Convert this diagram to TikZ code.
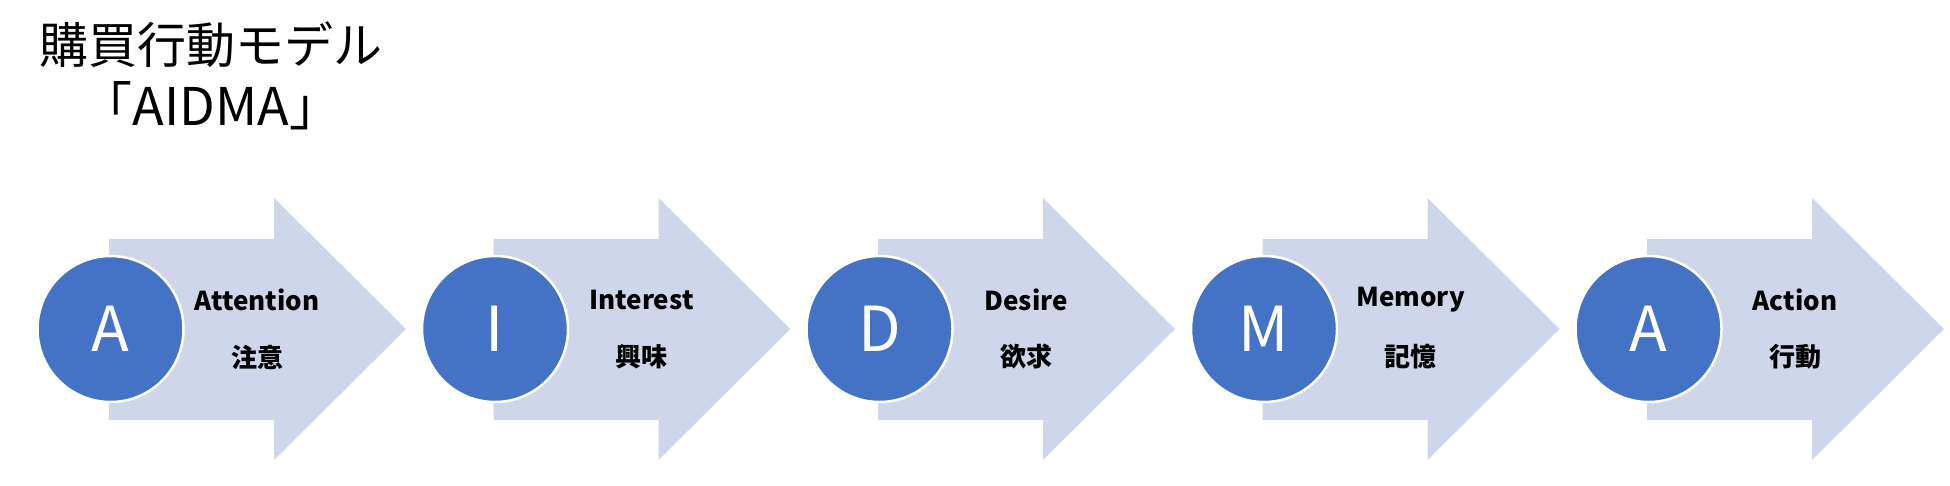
\documentclass[tikz,border=0pt]{standalone}
\usepackage{fontspec}
\setmainfont{Noto Sans CJK JP}
\usepackage{tikz}
\definecolor{flow}{HTML}{D0D6EA}
\definecolor{disc}{HTML}{4472C4}

\begin{document}
\begin{tikzpicture}[x=1pt,y=-1pt,
  stage/.style={circle,fill=disc,draw=white,line width=2.5pt,minimum size=146pt,inner sep=0pt,text=white,font=\fontsize{62}{62}\selectfont},
  tag/.style={text=black,font=\bfseries\fontsize{26}{30}\selectfont}]
\useasboundingbox (0,0) rectangle (1950,485);
% title
\node[font=\fontsize{49}{62}\selectfont,align=center] (title) at (211,76) {購買行動モデル\\{\fontsize{52}{62}\selectfont「AIDMA」}};
% the five steps
\foreach \k/\ltr/\en/\jp in {0/A/Attention/注意,1/I/Interest/興味,2/D/Desire/欲求,3/M/Memory/記憶,4/A/Action/行動} {
 \begin{scope}[shift={(\k*384.5,0)}]
  \fill[flow] (109,239) -- (274,239) -- (274,198) -- (406,329) -- (274,460) -- (274,420) -- (109,420) -- cycle;
  \node[stage] (c\k) at (110.5,329) {\ltr};
  \node[tag] (en\k) at (257,300) {\en};
  \node[tag] (jp\k) at (257,357) {\jp};
 \end{scope}}
\end{tikzpicture}
\end{document}
